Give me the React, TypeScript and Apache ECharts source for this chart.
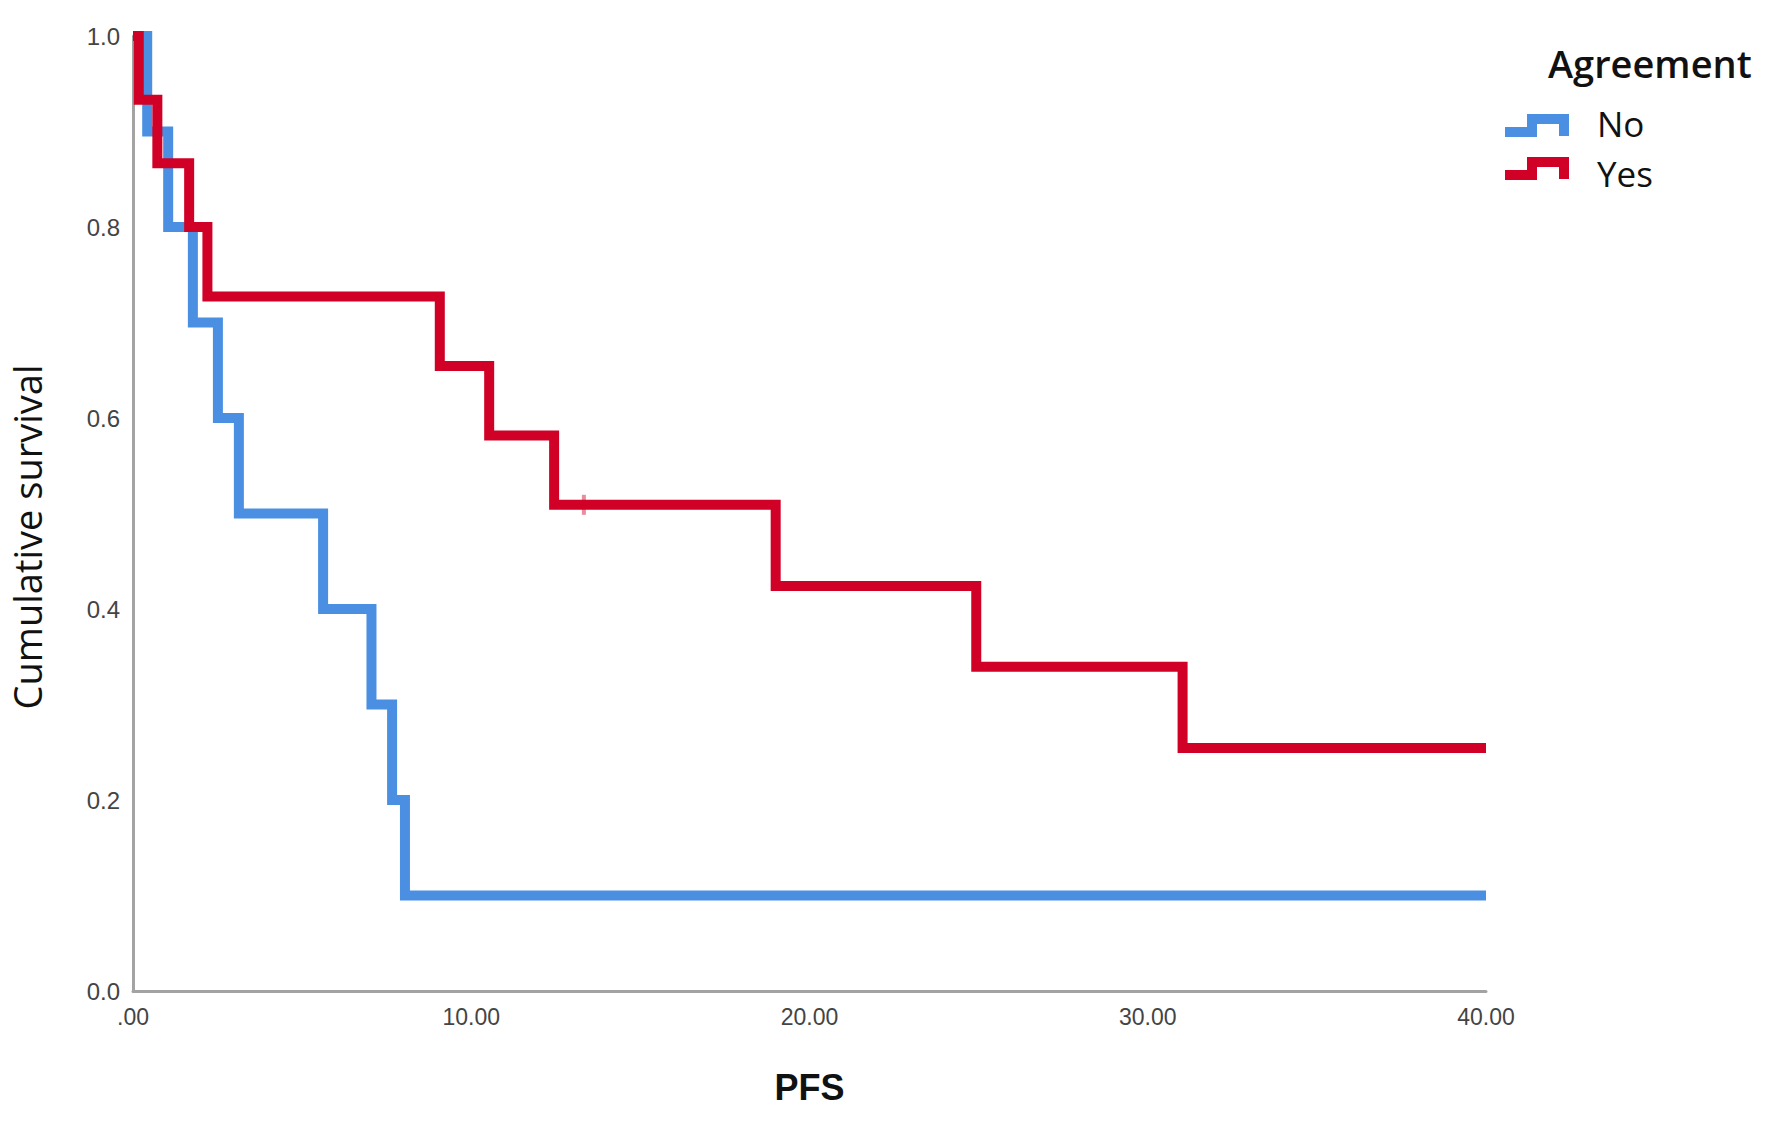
import React, { useEffect, useRef } from "react";
import * as echarts from "echarts";

// Kaplan–Meier steps
const timesNo = [0, 0.42, 1.04, 1.77, 2.51, 3.13, 5.62, 7.05, 7.66, 8.04, 40];
const survNo = [1, 0.9, 0.8, 0.7, 0.6, 0.5, 0.4, 0.3, 0.2, 0.1, 0.1];
const timesYes = [0, 0.17, 0.72, 1.66, 2.2, 9.07, 10.53, 12.45, 19.0, 24.93, 31.03, 40];
const survYes = [1, 0.9333, 0.8667, 0.8, 0.7273, 0.6545, 0.5818, 0.5091, 0.4242, 0.3394, 0.2545, 0.2545];
const censorYesTime = [13.33];
const censorYesSurv = [0.5091];
const xTicks = [0, 10, 20, 30, 40];
const groups = ["No", "Yes"];
const legendTitle = "Agreement";
const yTitle = "Cumulative survival";
const xTitle = "PFS";

const BLUE = "#4a8fe2";
const RED = "#d00026";

export default function App() {
  const ref = useRef<HTMLDivElement>(null);
  useEffect(() => {
    if (!ref.current) return;
    const chart = echarts.init(ref.current, undefined, { renderer: "svg" });
    const noData = timesNo.map((t, i) => [t, survNo[i]]);
    const yesData = timesYes.map((t, i) => [t, survYes[i]]);
    const censorData = censorYesTime.map((t, i) => [t, censorYesSurv[i]]);
    const iconPts = (dy: number) => [
      [1505, 132 + dy],
      [1532, 132 + dy],
      [1532, 119 + dy],
      [1564, 119 + dy],
      [1564, 136 + dy],
    ];
    chart.setOption({
      animation: false,
      backgroundColor: "#ffffff",
      grid: { left: 133, right: 286, top: 36, bottom: 137, containLabel: false },
      xAxis: {
        type: "value",
        min: xTicks[0],
        max: xTicks[xTicks.length - 1],
        interval: 10,
        name: xTitle,
        nameLocation: "middle",
        nameGap: 78,
        nameTextStyle: {
          fontFamily: "Liberation Sans, Arial, sans-serif",
          fontWeight: "bold",
          fontSize: 36,
          color: "#111",
        },
        axisLine: { show: true, lineStyle: { color: "#a3a3a3", width: 3 } },
        axisTick: { show: false },
        splitLine: { show: false },
        axisLabel: {
          margin: 14,
          fontFamily: "Liberation Sans, Arial, sans-serif",
          fontSize: 23,
          color: "#444",
          formatter: (v: number) => (v === 0 ? ".00" : v.toFixed(2)),
        },
      },
      yAxis: {
        type: "value",
        min: 0,
        max: 1,
        interval: 0.2,
        axisLine: { show: true, lineStyle: { color: "#a3a3a3", width: 3 } },
        axisTick: { show: false },
        splitLine: { show: false },
        axisLabel: {
          margin: 13,
          fontFamily: "Liberation Sans, Arial, sans-serif",
          fontSize: 24,
          color: "#444",
          formatter: (v: number) => v.toFixed(1),
        },
      },
      series: [
        {
          name: groups[0],
          type: "line",
          step: "end",
          data: noData,
          showSymbol: false,
          lineStyle: { color: BLUE, width: 10, cap: "butt", join: "miter" },
          itemStyle: { color: BLUE },
          z: 2,
        },
        {
          name: groups[1],
          type: "line",
          step: "end",
          data: yesData,
          showSymbol: false,
          lineStyle: { color: RED, width: 10, cap: "butt", join: "miter" },
          itemStyle: { color: RED },
          z: 3,
        },
        {
          name: groups[1] + " censored",
          type: "scatter",
          data: censorData,
          symbol: "rect",
          symbolSize: [4, 20],
          itemStyle: { color: RED, opacity: 0.45 },
          z: 4,
        },
      ],
      graphic: [
        {
          type: "text",
          x: 27,
          y: 537,
          rotation: Math.PI / 2,
          style: {
            text: yTitle,
            fontFamily: "Open Sans, sans-serif",
            fontSize: 38,
            lineHeight: 40,
            fill: "#111",
            align: "center",
            verticalAlign: "middle",
          },
        },
        {
          type: "text",
          left: 1548,
          top: 44,
          style: {
            text: legendTitle,
            fontFamily: "Open Sans, sans-serif",
            fontWeight: 600,
            fontSize: 38,
            fill: "#111",
          },
        },
        {
          type: "polyline",
          shape: { points: iconPts(0) },
          style: { stroke: BLUE, lineWidth: 10, fill: "none", lineJoin: "miter" },
        },
        {
          type: "polyline",
          shape: { points: iconPts(43) },
          style: { stroke: RED, lineWidth: 10, fill: "none", lineJoin: "miter" },
        },
        {
          type: "text",
          left: 1597,
          top: 106,
          style: { text: groups[0], fontFamily: "Open Sans, sans-serif", fontSize: 35, fill: "#111" },
        },
        {
          type: "text",
          left: 1597,
          top: 156,
          style: { text: groups[1], fontFamily: "Open Sans, sans-serif", fontSize: 35, fill: "#111" },
        },
      ],
    });
    return () => chart.dispose();
  }, []);
  return (
    <div
      ref={ref}
      style={{ position: "fixed", left: 0, top: 0, width: 1772, height: 1128, background: "#fff" }}
    />
  );
}
